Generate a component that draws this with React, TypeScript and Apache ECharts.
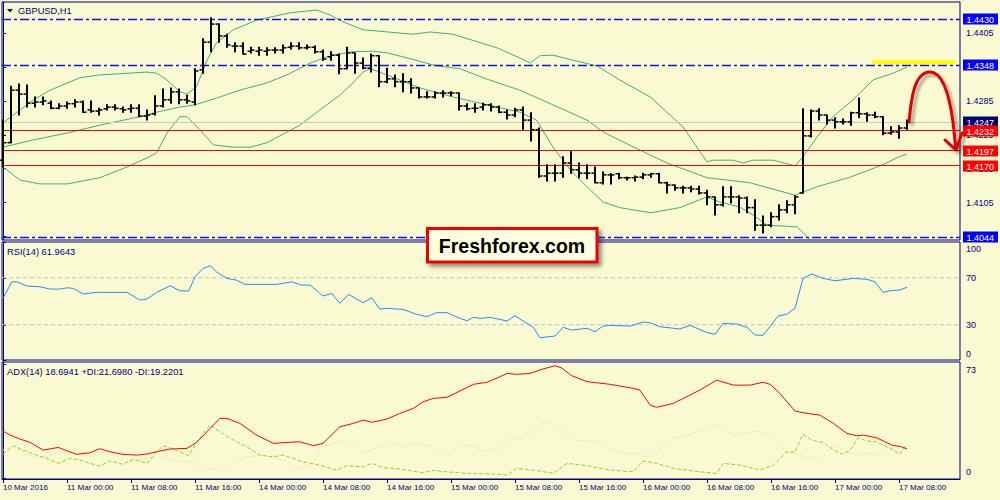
import React, { useEffect, useRef } from 'react';
import * as echarts from 'echarts';

const BG = '#FAFAD2';
const NAVY = '#000080';
const FONT = '"Liberation Sans", Arial, sans-serif';

const symbolTitle = 'GBPUSD,H1';
const rsiTitle = 'RSI(14) 61.9643';
const adxTitle = 'ADX(14) 18.6941 +DI:21.6980 -DI:19.2201';
const logoText = 'Freshforex.com';

const xLabels = ['10 Mar 2016', '11 Mar 00:00', '11 Mar 08:00', '11 Mar 16:00', '14 Mar 00:00', '14 Mar 08:00', '14 Mar 16:00', '15 Mar 00:00', '15 Mar 08:00', '15 Mar 16:00', '16 Mar 00:00', '16 Mar 08:00', '16 Mar 16:00', '17 Mar 00:00', '17 Mar 08:00'];
const xLabelBars = [0, 8, 16, 24, 32, 40, 48, 56, 64, 72, 80, 88, 96, 104, 112];

const opens = [1.4180, 1.4211, 1.4304, 1.4297, 1.4281, 1.4283, 1.4281, 1.4272, 1.4276, 1.4280, 1.4283, 1.4269, 1.4267, 1.4271, 1.4274, 1.4271, 1.4271, 1.4272, 1.4258, 1.4262, 1.4276, 1.4287, 1.4301, 1.4287, 1.4283, 1.4340, 1.4389, 1.4421, 1.4400, 1.4382, 1.4382, 1.4373, 1.4373, 1.4373, 1.4375, 1.4375, 1.4380, 1.4382, 1.4379, 1.4380, 1.4372, 1.4363, 1.4366, 1.4342, 1.4370, 1.4352, 1.4343, 1.4365, 1.4319, 1.4324, 1.4319, 1.4319, 1.4308, 1.4292, 1.4292, 1.4299, 1.4299, 1.4299, 1.4276, 1.4272, 1.4274, 1.4278, 1.4274, 1.4265, 1.4260, 1.4269, 1.4251, 1.4234, 1.4152, 1.4157, 1.4157, 1.4175, 1.4163, 1.4157, 1.4157, 1.4140, 1.4154, 1.4156, 1.4149, 1.4149, 1.4150, 1.4154, 1.4156, 1.4140, 1.4136, 1.4131, 1.4131, 1.4129, 1.4122, 1.4115, 1.4101, 1.4115, 1.4115, 1.4113, 1.4096, 1.4065, 1.4065, 1.4080, 1.4092, 1.4101, 1.4122, 1.4223, 1.4267, 1.4260, 1.4251, 1.4248, 1.4248, 1.4264, 1.4262, 1.4260, 1.4257, 1.4228, 1.4230, 1.4237];
const highs = [1.4251, 1.4311, 1.4315, 1.4313, 1.4292, 1.4292, 1.4285, 1.4280, 1.4283, 1.4287, 1.4285, 1.4285, 1.4272, 1.4278, 1.4278, 1.4274, 1.4278, 1.4278, 1.4269, 1.4294, 1.4306, 1.4308, 1.4306, 1.4295, 1.4342, 1.4395, 1.4432, 1.4421, 1.4403, 1.4388, 1.4388, 1.4380, 1.4380, 1.4379, 1.4379, 1.4384, 1.4388, 1.4388, 1.4384, 1.4382, 1.4375, 1.4372, 1.4368, 1.4380, 1.4370, 1.4361, 1.4368, 1.4365, 1.4343, 1.4331, 1.4333, 1.4324, 1.4308, 1.4301, 1.4301, 1.4303, 1.4301, 1.4299, 1.4280, 1.4280, 1.4281, 1.4280, 1.4276, 1.4269, 1.4272, 1.4274, 1.4264, 1.4237, 1.4172, 1.4172, 1.4186, 1.4195, 1.4175, 1.4172, 1.4168, 1.4159, 1.4156, 1.4157, 1.4150, 1.4152, 1.4157, 1.4157, 1.4157, 1.4141, 1.4136, 1.4134, 1.4134, 1.4134, 1.4127, 1.4115, 1.4133, 1.4133, 1.4117, 1.4115, 1.4110, 1.4081, 1.4087, 1.4101, 1.4108, 1.4117, 1.4271, 1.4269, 1.4271, 1.4260, 1.4255, 1.4253, 1.4265, 1.4290, 1.4264, 1.4265, 1.4257, 1.4239, 1.4241, 1.4251];
const lows = [1.4168, 1.4211, 1.4260, 1.4274, 1.4274, 1.4278, 1.4271, 1.4271, 1.4272, 1.4274, 1.4265, 1.4265, 1.4260, 1.4269, 1.4269, 1.4265, 1.4265, 1.4257, 1.4251, 1.4260, 1.4274, 1.4281, 1.4280, 1.4281, 1.4278, 1.4334, 1.4372, 1.4389, 1.4380, 1.4372, 1.4368, 1.4370, 1.4366, 1.4366, 1.4370, 1.4370, 1.4377, 1.4377, 1.4377, 1.4370, 1.4357, 1.4357, 1.4333, 1.4342, 1.4334, 1.4342, 1.4336, 1.4310, 1.4317, 1.4310, 1.4301, 1.4299, 1.4290, 1.4290, 1.4290, 1.4292, 1.4294, 1.4269, 1.4269, 1.4265, 1.4269, 1.4267, 1.4264, 1.4253, 1.4257, 1.4235, 1.4214, 1.4150, 1.4143, 1.4143, 1.4150, 1.4157, 1.4149, 1.4147, 1.4140, 1.4138, 1.4138, 1.4147, 1.4145, 1.4143, 1.4147, 1.4150, 1.4140, 1.4122, 1.4127, 1.4122, 1.4124, 1.4120, 1.4101, 1.4083, 1.4099, 1.4104, 1.4087, 1.4087, 1.4056, 1.4051, 1.4062, 1.4074, 1.4087, 1.4085, 1.4122, 1.4221, 1.4251, 1.4244, 1.4237, 1.4244, 1.4242, 1.4255, 1.4249, 1.4255, 1.4225, 1.4226, 1.4219, 1.4235];
const closes = [1.4211, 1.4304, 1.4297, 1.4281, 1.4283, 1.4285, 1.4272, 1.4276, 1.4280, 1.4283, 1.4265, 1.4267, 1.4269, 1.4274, 1.4272, 1.4269, 1.4272, 1.4258, 1.4260, 1.4276, 1.4287, 1.4301, 1.4287, 1.4285, 1.4338, 1.4389, 1.4421, 1.4400, 1.4384, 1.4382, 1.4368, 1.4375, 1.4375, 1.4375, 1.4375, 1.4379, 1.4382, 1.4379, 1.4380, 1.4372, 1.4359, 1.4366, 1.4342, 1.4370, 1.4352, 1.4343, 1.4365, 1.4319, 1.4324, 1.4319, 1.4319, 1.4308, 1.4292, 1.4292, 1.4299, 1.4299, 1.4299, 1.4276, 1.4271, 1.4272, 1.4278, 1.4274, 1.4265, 1.4260, 1.4269, 1.4251, 1.4234, 1.4152, 1.4157, 1.4157, 1.4175, 1.4163, 1.4157, 1.4157, 1.4140, 1.4154, 1.4154, 1.4149, 1.4149, 1.4150, 1.4154, 1.4156, 1.4140, 1.4136, 1.4131, 1.4131, 1.4129, 1.4122, 1.4115, 1.4101, 1.4115, 1.4115, 1.4113, 1.4096, 1.4065, 1.4065, 1.4080, 1.4092, 1.4101, 1.4115, 1.4223, 1.4267, 1.4260, 1.4251, 1.4248, 1.4248, 1.4264, 1.4262, 1.4260, 1.4257, 1.4228, 1.4230, 1.4237, 1.4247];

const upperBand = [[0, 1.4246], [3.8, 1.4287], [5.9, 1.4304], [9.6, 1.4326], [12.1, 1.4331], [18, 1.4336], [19.2, 1.4334], [20.5, 1.4322], [22.1, 1.4301], [23, 1.4297], [24.2, 1.4310], [25.5, 1.4357], [26.7, 1.4388], [28.8, 1.4411], [31.7, 1.4428], [35.9, 1.4441], [39.2, 1.4446], [40.9, 1.4437], [42.5, 1.4425], [45, 1.4411], [51.25, 1.4403], [53.4, 1.4407], [56.25, 1.4403], [61.75, 1.4379], [64.6, 1.4361], [65.9, 1.4352], [67.1, 1.4365], [68.75, 1.4366], [71.25, 1.4357], [74.25, 1.4347], [77.1, 1.4322], [80.9, 1.4292], [85, 1.4239], [88, 1.4177], [88.75, 1.4180], [91.25, 1.4180], [92.5, 1.4175], [93.75, 1.4180], [96.25, 1.4180], [99, 1.4170], [100, 1.4186], [101.75, 1.4221], [103.75, 1.4257], [106.25, 1.4287], [108.75, 1.4322], [111.25, 1.4334], [113, 1.4345]];
const middleBand = [[0, 1.4203], [3.8, 1.4216], [8, 1.4228], [12.1, 1.4242], [17.1, 1.4257], [19.2, 1.4265], [22.1, 1.4274], [24, 1.4278], [26.7, 1.4290], [29.6, 1.4304], [33, 1.4317], [35.5, 1.4331], [38.4, 1.4352], [40.5, 1.4363], [42.1, 1.4368], [43.75, 1.4372], [46.25, 1.4373], [48, 1.4370], [50, 1.4363], [54.2, 1.4347], [57.1, 1.4342], [60.4, 1.4324], [64.6, 1.4304], [68.75, 1.4278], [73, 1.4251], [75, 1.4230], [79, 1.4202], [83, 1.4175], [88, 1.4149], [93.4, 1.4140], [99, 1.4118], [101.75, 1.4133], [105.9, 1.4150], [110, 1.4172], [112, 1.4186], [113, 1.4191]];
const lowerBand = [[0, 1.4168], [2.1, 1.4145], [4.6, 1.4138], [8, 1.4138], [12.1, 1.4149], [15.5, 1.4168], [18, 1.4184], [19.2, 1.4193], [20.5, 1.4228], [22.1, 1.4257], [23, 1.4257], [24.6, 1.4234], [26.3, 1.4207], [28.8, 1.4203], [30.9, 1.4203], [33, 1.4211], [37.1, 1.4242], [39.6, 1.4269], [42.1, 1.4295], [43.75, 1.4317], [45, 1.4336], [45.9, 1.4342], [46.7, 1.4338], [48, 1.4331], [52.1, 1.4308], [56.25, 1.4292], [64.6, 1.4265], [66.7, 1.4251], [68.75, 1.4203], [70.9, 1.4163], [73, 1.4133], [75, 1.4106], [77.1, 1.4096], [81, 1.4087], [84.6, 1.4096], [88, 1.4115], [89.6, 1.4106], [92.1, 1.4097], [93.75, 1.4083], [95.5, 1.4065], [99.25, 1.4062], [100.9, 1.4039], [102, 1.4012], [103, 1.3995]];

const rsiValues = [[0, 52.5], [1.1, 66.6], [1.7, 66.6], [3, 63], [4.6, 62.4], [5.9, 60.4], [7.1, 60.4], [8, 61.5], [8.8, 61], [10, 56.2], [11.7, 57.6], [15.5, 57.6], [17.1, 51], [18, 51.9], [19.2, 57.6], [20.9, 63.2], [22.1, 59], [23.2, 58.7], [24, 70.9], [25, 78], [25.9, 80.3], [26.7, 75], [28, 69.5], [29.2, 68], [30.25, 64.4], [34.2, 64.4], [36.1, 66.6], [37.3, 63.8], [38.4, 63.8], [40, 54.5], [41.1, 56.7], [42.1, 48.2], [43.2, 55.9], [45, 48.8], [46.1, 53], [47.1, 43.4], [47.9, 44], [50, 43.1], [51.7, 38.9], [53, 36.9], [54.2, 40.3], [55.5, 40.3], [57.1, 35.5], [58, 33.5], [58.8, 36.3], [59.6, 35.5], [60.9, 36.3], [62.1, 34.6], [63, 33.2], [64, 37.7], [65.5, 31.2], [66.3, 27.8], [67.1, 19], [69, 20.4], [70, 27.8], [71.1, 25.5], [73, 27], [74, 24.1], [75, 28.9], [75.9, 29.5], [78.4, 28.9], [80, 32.3], [80.9, 31.7], [82.1, 28.4], [84.6, 26.4], [85.9, 29.5], [88, 23.3], [89, 21.9], [90, 31.2], [91.7, 30.6], [93, 27.8], [94, 21.3], [95, 21], [96.9, 37.4], [98, 39.1], [99, 44], [100, 69.5], [101.1, 73.2], [102.5, 69.5], [104, 67.5], [106.3, 69.5], [108, 68.7], [109, 66.6], [110, 57.6], [110.9, 59], [112.1, 59.6], [113, 61.96]];
const rsiLevels = [70, 30];
const rsiTicks = [0, 30, 70, 100];

const adxValues = [[0, 30.1], [0.9, 27.5], [2.1, 25], [3.4, 22.8], [5, 17.9], [6.9, 19.6], [9.2, 15.2], [10.9, 16.2], [12.1, 18.8], [13.4, 16.8], [15, 15.2], [16.7, 14.7], [18, 15.4], [19.6, 17.3], [20.9, 18.6], [23, 19], [24.2, 22.8], [25.7, 30.7], [27.1, 38.2], [28, 38.2], [29.6, 35], [31.7, 27.5], [33.8, 22.2], [35.5, 22.8], [37.1, 23.2], [38.8, 20.7], [40, 22.2], [42.1, 32.8], [43.8, 35], [45, 37.1], [46.1, 35.7], [48, 37.8], [49.6, 41.4], [51.3, 44.6], [52.5, 48.8], [53.8, 51], [55.5, 51.7], [57.1, 55.7], [58.8, 60], [60.5, 61.3], [62.1, 64.8], [63, 67], [64.2, 66.4], [65.9, 67], [67.5, 69.8], [69, 71.9], [69.8, 70.6], [71.1, 65.5], [73, 61.7], [75.9, 60], [78.8, 57.4], [79.6, 56.3], [80.9, 46.7], [81.7, 45.3], [83.8, 47.8], [87.1, 56.3], [89.2, 62.7], [91.3, 59.5], [93.4, 59.5], [95, 61.3], [95.9, 60], [97.1, 54.2], [99, 42.9], [100.5, 41.4], [102.1, 40.3], [103.8, 35], [105.5, 28.6], [106.7, 27.1], [107.5, 27.5], [109.2, 25.8], [111.1, 21.1], [112.3, 20], [113, 18.69]];
const plusDI = [[0, 15.2], [1.3, 20.7], [2.5, 17.9], [4.2, 14.7], [5.5, 12.6], [6.9, 9.4], [8.4, 12.6], [9.6, 11.5], [10.9, 9.4], [12.1, 7.7], [13.4, 10.9], [15, 8.8], [16.3, 12.2], [18, 9.4], [19.2, 16.8], [20, 20.7], [21.3, 18.6], [23.2, 14.3], [24.2, 22.8], [25, 28.6], [25.9, 33.9], [27.1, 29.6], [28.8, 24.3], [30.5, 20], [32.1, 14.7], [33.8, 13.6], [35, 14.7], [36.3, 12.6], [37.5, 10.4], [39.6, 8.3], [41.7, 5.1], [43, 7.9], [45, 7.2], [46.1, 9.4], [47.5, 6.6], [49.6, 5.8], [52.5, 3.4], [53.8, 4.9], [55.5, 4], [58, 3], [62.1, 2.4], [63, 1.9], [64.2, 6.2], [66.3, 5.1], [68.8, 3], [70.5, 9.4], [72.5, 8.3], [75.9, 5.1], [78.8, 4], [80, 10.9], [81.7, 9.4], [83.8, 6.2], [87.1, 4], [89.2, 3], [90, 9.4], [92.1, 8.3], [94.6, 5.1], [96.3, 8.3], [98, 16.8], [99, 16.8], [100, 28], [101.1, 24.3], [102.5, 22.8], [103.8, 17.9], [105, 15.2], [105.9, 17.9], [106.9, 25.8], [108, 23.7], [109.2, 23.2], [110.5, 20], [111.3, 17.9], [112.1, 15.2], [113, 21.7]];
const minusDI = [[0, 17.9], [1.3, 20], [3, 14.7], [5, 13], [7.1, 16.8], [9.2, 15.8], [11.3, 13.6], [12.1, 16.8], [13.8, 15.2], [15.5, 10.4], [18, 12.2], [19.6, 13.6], [21.3, 10.9], [23.4, 10.4], [25.5, 6.2], [27.1, 5.1], [28.8, 10.4], [30.5, 13.6], [32.5, 14.7], [35, 11.5], [37.1, 6.2], [38.8, 9.4], [39.6, 20], [41.3, 21.6], [42.1, 24.3], [43.8, 21.6], [45, 15.8], [46.7, 19.4], [48.8, 22.2], [50, 20], [51.7, 22.8], [53.8, 20], [55.5, 14.3], [57.1, 21.6], [58.8, 20], [60.5, 16.8], [62.1, 19.5], [63.4, 27.5], [64.2, 23.7], [65.5, 28.6], [66.3, 29.6], [67.1, 35], [67.9, 36.1], [69.2, 32.9], [70.5, 27.5], [71.7, 23.7], [73, 24.3], [74.6, 22.8], [76.3, 17.9], [77.9, 15.2], [78.8, 16.4], [80.4, 13.6], [81.7, 14.7], [82.9, 22.8], [83.8, 25.4], [85.4, 27.5], [87.1, 30.1], [88.8, 35], [89.6, 32.9], [91.3, 27.5], [92.5, 28.6], [94.2, 30.1], [95.4, 28], [96.7, 23.2], [97.9, 16.8], [99.6, 14.7], [101.3, 12.6], [102.1, 10], [103.4, 20], [104.6, 19], [106.3, 15.2], [108, 15.8], [109.2, 13.6], [110.5, 20], [112.1, 16.8], [113, 19.22]];
const adxTicks = [0, 73];

const priceTicks = [1.4045, 1.4105, 1.4165, 1.4225, 1.4285, 1.4345, 1.4405];
const currentPrice = [1.4247];
const blueLevels = [1.4430, 1.4348, 1.4044];
const redLevels = [1.4232, 1.4197, 1.4170];

const X_MIN = -0.125;
const X_MAX = 119.625;

const ARROW_D = 'M909,122 C911,100 914,72 930,72 C944,72 950,100 953,122 L956,150 M945,140 L956,150 L962,133';

// horizontal price levels with a coloured price box on the right of the price axis
function levelSeries(values: number[], color: string, dash: number[] | null, width: number, boxColor: string) {
  return {
    type: 'custom',
    xAxisIndex: 0,
    yAxisIndex: 0,
    silent: true,
    z: 3,
    data: values.map((v) => [0, v]),
    encode: { x: 0, y: 1 },
    renderItem: (params: any, api: any) => {
      const v = api.value(1);
      const cs = params.coordSys;
      const yRaw = api.coord([0, v])[1];
      const y = Math.round(yRaw - 0.5) + 0.5;
      const right = cs.x + cs.width;
      const cy = Math.round(yRaw);
      return {
        type: 'group',
        children: [
          { type: 'line', shape: { x1: cs.x, y1: y, x2: right, y2: y }, style: { stroke: color, lineWidth: width, lineDash: dash || undefined } },
          { type: 'rect', shape: { x: right + 3, y: cy - 5.5, width: 35, height: 11 }, style: { fill: boxColor } },
          {
            type: 'text', x: right + 6.5, y: cy + 0.5,
            style: { text: v.toFixed(4), fill: '#ffffff', font: `9px ${FONT}`, textVerticalAlign: 'middle', verticalAlign: 'middle' },
          },
        ],
      };
    },
  };
}

export default function App() {
  const ref = useRef<HTMLDivElement>(null);
  useEffect(() => {
    echarts.graphic.registerShape('redArrow', echarts.graphic.extendPath(ARROW_D, {}));
    const chart = echarts.init(ref.current!, null, { renderer: 'svg' });
    const bars = opens.map((o, i) => [i, o, highs[i], lows[i], closes[i]]);

    const xAx = (k: number) => ({
      type: 'value',
      gridIndex: k,
      min: X_MIN,
      max: X_MAX,
      show: k === 2,
      splitLine: { show: false },
      axisLine: { show: true, onZero: false, lineStyle: { color: NAVY } },
      axisTick: { show: true, customValues: xLabelBars, length: 4, lineStyle: { color: NAVY } },
      axisLabel: {
        customValues: xLabelBars,
        formatter: (v: number) => xLabels[Math.round(v / 8)] || '',
        align: 'left',
        color: NAVY,
        fontSize: 8,
        fontFamily: FONT,
        margin: 4,
      },
    });

    const edgeRich = {
      t: { padding: [12, 0, 0, 0], color: NAVY, fontSize: 9, fontFamily: FONT },
      b: { padding: [0, 0, 13, 0], color: NAVY, fontSize: 9, fontFamily: FONT },
    };

    const option: any = {
      animation: false,
      backgroundColor: BG,
      grid: [
        { left: 2, top: 2, width: 958, height: 238, show: true, borderColor: NAVY, borderWidth: 1, backgroundColor: 'transparent' },
        { left: 2, top: 242, width: 958, height: 118, show: true, borderColor: NAVY, borderWidth: 1, backgroundColor: 'transparent' },
        { left: 2, top: 362, width: 958, height: 117, show: true, borderColor: NAVY, borderWidth: 1, backgroundColor: 'transparent' },
      ],
      xAxis: [xAx(0), xAx(1), xAx(2)],
      yAxis: [
        {
          type: 'value', gridIndex: 0, position: 'right', min: 1.40387, max: 1.44601,
          splitLine: { show: false },
          axisLine: { show: true, lineStyle: { color: NAVY } },
          axisTick: { show: true, customValues: priceTicks, length: 3, lineStyle: { color: NAVY } },
          axisLabel: { customValues: priceTicks, formatter: (v: number) => v.toFixed(4), color: NAVY, fontSize: 9, fontFamily: FONT, margin: 6 },
        },
        {
          type: 'value', gridIndex: 1, position: 'right', min: 0, max: 100.5,
          splitLine: { show: false },
          axisLine: { show: true, lineStyle: { color: NAVY } },
          axisTick: { show: true, customValues: rsiTicks, length: 3, lineStyle: { color: NAVY } },
          axisLabel: {
            customValues: rsiTicks, color: NAVY, fontSize: 9, fontFamily: FONT, margin: 6,
            formatter: (v: number) => (v === 100 ? '{t|100}' : v === 0 ? '{b|0}' : String(v)),
            rich: edgeRich,
          },
        },
        {
          type: 'value', gridIndex: 2, position: 'right', min: -0.6, max: 74.3,
          splitLine: { show: false },
          axisLine: { show: true, lineStyle: { color: NAVY } },
          axisTick: { show: true, customValues: adxTicks, length: 3, lineStyle: { color: NAVY } },
          axisLabel: {
            customValues: adxTicks, color: NAVY, fontSize: 9, fontFamily: FONT, margin: 6,
            formatter: (v: number) => (v === 73 ? '{t|73}' : '{b|0}'),
            rich: edgeRich,
          },
        },
      ],
      series: [
        levelSeries(currentPrice, '#C8C8C8', null, 1, '#000070'),
        levelSeries(blueLevels, '#1010FF', [9, 3, 3, 3], 1.5, '#0000FF'),
        levelSeries(redLevels, '#FF0000', null, 1, '#FF0000'),
        {
          type: 'line', name: 'upper', xAxisIndex: 0, yAxisIndex: 0, data: upperBand, symbol: 'none',
          lineStyle: { color: '#3CB371', width: 1 }, z: 2,
        },
        {
          type: 'line', name: 'middle', xAxisIndex: 0, yAxisIndex: 0, data: middleBand, symbol: 'none',
          lineStyle: { color: '#3CB371', width: 1 }, z: 2,
        },
        {
          type: 'line', name: 'lower', xAxisIndex: 0, yAxisIndex: 0, data: lowerBand, symbol: 'none',
          lineStyle: { color: '#3CB371', width: 1 }, z: 2,
        },
        {
          type: 'custom', name: 'bars', xAxisIndex: 0, yAxisIndex: 0, data: bars, z: 4,
          encode: { x: 0, y: [1, 2, 3, 4] },
          renderItem: (params: any, api: any) => {
            const x = api.value(0);
            const pO = api.coord([x, api.value(1)]);
            const pH = api.coord([x, api.value(2)]);
            const pL = api.coord([x, api.value(3)]);
            const pC = api.coord([x, api.value(4)]);
            const st = { stroke: '#000000', lineWidth: 2 };
            const tk = { stroke: '#000000', lineWidth: 1.5 };
            return {
              type: 'group',
              children: [
                { type: 'line', shape: { x1: pH[0], y1: pH[1] - 0.5, x2: pL[0], y2: pL[1] + 0.5 }, style: st },
                { type: 'line', shape: { x1: pO[0] - 3.5, y1: pO[1], x2: pO[0], y2: pO[1] }, style: tk },
                { type: 'line', shape: { x1: pC[0], y1: pC[1], x2: pC[0] + 3.5, y2: pC[1] }, style: tk },
              ],
            };
          },
        },
        ...rsiLevels.map((v) => ({
          type: 'line', xAxisIndex: 1, yAxisIndex: 1, data: [[X_MIN, v], [X_MAX, v]], symbol: 'none', silent: true,
          color: '#C0C0C0', lineStyle: { color: '#C0C0C0', type: [4, 3], width: 1 },
        })),
        {
          type: 'line', name: 'RSI', xAxisIndex: 1, yAxisIndex: 1, data: rsiValues, symbol: 'none',
          lineStyle: { color: '#1E90FF', width: 1 },
        },
        {
          type: 'line', name: '-DI', xAxisIndex: 2, yAxisIndex: 2, data: minusDI, symbol: 'none',
          lineStyle: { color: '#F5DEB3', width: 1, type: [3, 2] },
        },
        {
          type: 'line', name: '+DI', xAxisIndex: 2, yAxisIndex: 2, data: plusDI, symbol: 'none',
          lineStyle: { color: '#9ACD32', width: 1, type: [4, 2] },
        },
        {
          type: 'line', name: 'ADX', xAxisIndex: 2, yAxisIndex: 2, data: adxValues, symbol: 'none',
          lineStyle: { color: '#FF0000', width: 1 },
        },
      ],
      graphic: [
        { type: 'polygon', shape: { points: [[7, 9], [13, 9], [10, 12.5]] }, style: { fill: NAVY }, z: 20 },
        { type: 'text', x: 18, y: 11, z: 20, style: { text: symbolTitle, font: `9.3px ${FONT}`, fill: NAVY, textVerticalAlign: 'middle', verticalAlign: 'middle' } },
        { type: 'text', x: 7, y: 252, z: 20, style: { text: rsiTitle, font: `9.3px ${FONT}`, fill: NAVY, textVerticalAlign: 'middle', verticalAlign: 'middle' } },
        { type: 'text', x: 7, y: 371.5, z: 20, style: { text: adxTitle, font: `9.3px ${FONT}`, fill: NAVY, textVerticalAlign: 'middle', verticalAlign: 'middle' } },
        { type: 'rect', z: 30, shape: { x: 872, y: 60, width: 84, height: 4 }, style: { fill: '#FFFF00' } },
        {
          type: 'redArrow', x: 0, y: 0, z: 31,
          style: { stroke: '#E00000', lineWidth: 3, fill: 'none', lineCap: 'round', lineJoin: 'round', shadowBlur: 3, shadowOffsetX: 3, shadowOffsetY: 3, shadowColor: 'rgba(0,0,0,0.35)' },
        },
        {
          type: 'rect', z: 40, shape: { x: 427.5, y: 228.5, width: 169.5, height: 33.5 },
          style: { fill: '#FFFFE0', stroke: '#EE0000', lineWidth: 3, shadowBlur: 4, shadowOffsetX: 3, shadowOffsetY: 3, shadowColor: 'rgba(0,0,0,0.45)' },
        },
        {
          type: 'text', x: 512, y: 245.5, z: 41,
          style: { text: logoText, font: `bold 19.5px ${FONT}`, fill: '#000000', textAlign: 'center', align: 'center', textVerticalAlign: 'middle', verticalAlign: 'middle' },
        },
      ],
    };
    chart.setOption(option);
    return () => chart.dispose();
  }, []);
  return <div ref={ref} style={{ position: 'absolute', left: 0, top: 0, width: 1000, height: 500, background: BG }} />;
}
